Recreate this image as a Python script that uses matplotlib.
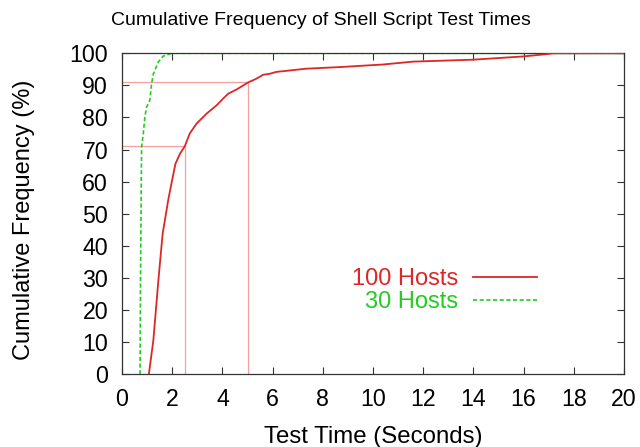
import matplotlib
matplotlib.use("Agg")
import matplotlib.pyplot as plt

# --- data ---
hosts100_x = [1.07, 1.25, 1.45, 1.62, 1.84, 1.97, 2.13, 2.31, 2.5, 2.70, 2.97, 3.37,
              3.77, 4.03, 4.23, 4.56, 5.02, 5.36, 5.62, 5.88, 6.15, 7.34, 8.67, 10.39,
              11.59, 13.97, 15.96, 16.75, 17.2, 20]
hosts100_y = [0, 10.6, 29.3, 43.8, 54.2, 59.4, 65.6, 68.7, 71.0, 75.0, 78.1, 81.2,
              83.8, 85.9, 87.4, 88.7, 90.9, 92.1, 93.3, 93.6, 94.2, 95.2, 95.7, 96.5,
              97.4, 98.0, 99.0, 99.6, 100, 100]
hosts30_x = [0.72, 0.74, 0.78, 0.85, 0.91, 0.98, 1.11, 1.18, 1.25, 1.45, 1.64, 1.97, 20]
hosts30_y = [0, 31.4, 70.8, 75.0, 80.1, 83.2, 85.4, 90.5, 93.6, 97.3, 99.1, 100, 100]

# percentile markers (time, percent)
marker_x = [2.52, 5.02]
marker_y = [71, 91]

labels = ["100 Hosts", "30 Hosts"]
xticks = list(range(0, 21, 2))
yticks = list(range(0, 101, 10))

RED = "#dd2626"
GREEN = "#22cc22"
PINK = "#f2a0a0"

plt.rcParams["font.family"] = ["Liberation Sans", "DejaVu Sans"]

fig = plt.figure(figsize=(6.4, 4.47), dpi=100)
ax = fig.add_axes([0.1906, 0.1626, 0.7844, 0.7182])

for mx, my in zip(marker_x, marker_y):
    ax.plot([0, mx], [my, my], color=PINK, lw=0.9, zorder=1)
    ax.plot([mx, mx], [0, my], color=PINK, lw=0.9, zorder=1)

ax.plot(hosts100_x, hosts100_y, color=RED, lw=1.3, label=labels[0], zorder=3)
ax.plot(hosts30_x, hosts30_y, color=GREEN, lw=1.2, dashes=(2.5, 1.5),
        label=labels[1], zorder=2)

ax.set_xlim(0, 20)
ax.set_ylim(0, 100)
ax.set_xticks(xticks)
ax.set_yticks(yticks)
ax.tick_params(direction="in", length=5, width=0.8, top=True, right=True,
               labelsize=16.7, colors="#333333", labelcolor="black")
ax.tick_params(axis="x", pad=10)
ax.tick_params(axis="y", pad=10)
for s in ax.spines.values():
    s.set_color("#333333")
    s.set_linewidth(0.9)

fig.text(0.502, 0.944, "Cumulative Frequency of Shell Script Test Times",
         fontsize=14, ha="center", va="baseline")
fig.text(0.583, 0.009, "Test Time (Seconds)", fontsize=17.3,
         ha="center", va="baseline")
fig.text(0.0375, 0.508, "Cumulative Frequency (%)", fontsize=17,
         rotation=90, ha="center", va="center")

leg = ax.legend(loc="upper right", bbox_to_anchor=(0.827, 0.331), frameon=False,
                markerfirst=False, handlelength=2.7, handletextpad=0.64,
                labelcolor="linecolor", fontsize=17, borderpad=0, borderaxespad=0,
                labelspacing=0.05)
for t in leg.get_texts():
    t.set_ha("right")

fig.savefig("out.png", dpi=100)
